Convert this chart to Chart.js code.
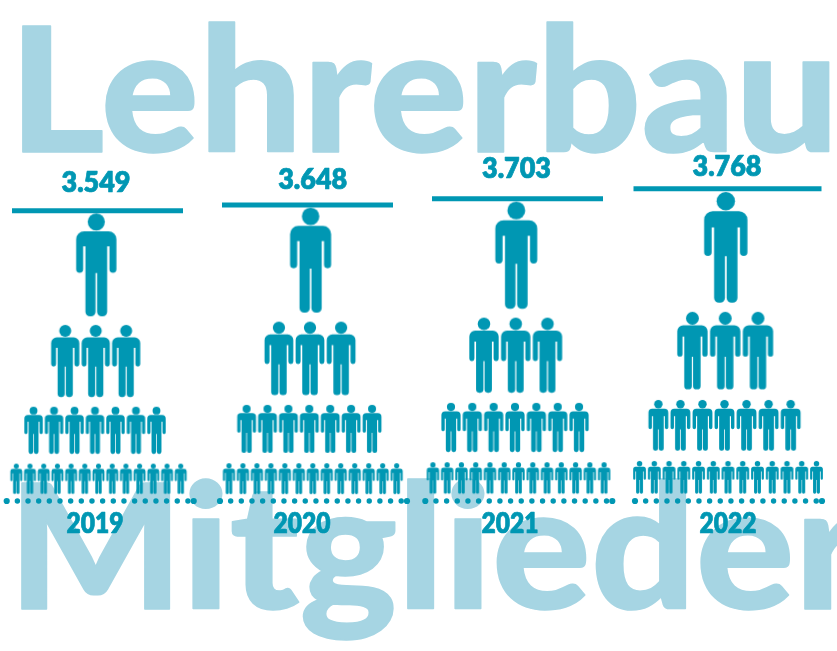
<!DOCTYPE html>
<html lang="de">
<head>
<meta charset="utf-8">
<title>Lehrerbau Mitglieder</title>
<script src="https://cdn.jsdelivr.net/npm/chart.js@4"></script>
<style>
    html, body { margin: 0; padding: 0; background: #fff; overflow: hidden; }
    #chart { display: block; }
</style>
</head>
<body>
<canvas id="chart" width="837" height="651"></canvas>
<script>
// Daten
const years = [2019, 2020, 2021, 2022];
const members = [3549, 3648, 3703, 3768];
// Hoehe der Linie, wie sie im Bild steht (nicht ganz proportional zu members)
const drawnLevels = [3549, 3619, 3696, 3818];
const figuresPerRow = [1, 3, 7, 13];
const titleTop = 'Lehrerbau';
const titleBottom = 'Mitglieder';

// Aussehen
const TEAL = '#0097b3';
const LIGHT = '#a6d5e3';
const PX_PER_YEAR = 210;
const PX_PER_MEMBER = 0.0818;
const BASE_Y = 501;
const FIRST_X = 97.5;

const rowCenter = [0.812, 0.481, 0.242, 0.0755];
const rowHeight = [0.355, 0.2485, 0.1625, 0.1045];
const rowSpacing = [0, 0.105, 0.0706, 0.0472];
const rowShift = [0.3, -0.3, -1, 2.5];
const yearShift = [-1.5, 2.8, -1.5, -2];
const lineWidths = [171, 171, 171, 188];
const dotStart = [6.7, 220, 425.3, 635];
const valueLabelX = [96, 312.7, 516.5, 727];
const valueLabelGap = [18.8, 16, 21, 12.7];
const yearLabelX = [95, 302, 510, 728];

function personIcon(h) {
    const u = h / 103.4;
    const c = document.createElement('canvas');
    c.width = Math.ceil(41 * u) + 2;
    c.height = Math.ceil(h) + 2;
    const g = c.getContext('2d');
    g.fillStyle = TEAL;
    g.translate(c.width / 2, 1);
    g.scale(u, u);
    g.beginPath();
    g.arc(0, 8.6, 8.6, 0, Math.PI * 2);
    g.fill();
    g.beginPath();
    g.roundRect(-20.2, 18, 40.4, 15, [8, 8, 0, 0]);
    g.roundRect(-20.2, 26, 7, 33.7, 3.5);
    g.roundRect(13.2, 26, 7, 33.7, 3.5);
    g.rect(-10.9, 30, 21.8, 30);
    g.roundRect(-10.9, 50, 10.1, 53.4, [0, 0, 4.5, 4.5]);
    g.roundRect(0.8, 50, 10.1, 53.4, [0, 0, 4.5, 4.5]);
    g.fill();
    return c;
}

const xFromPx = px => years[0] + (px - FIRST_X) / PX_PER_YEAR;

const figurePoints = [];
const figureStyles = [];
const linePoints = [];
const lineRadius = [];
const dotPoints = [];
const dotRadius = [];

years.forEach((year, i) => {
    const level = drawnLevels[i];
    const levelPx = level * PX_PER_MEMBER;
    const cx = FIRST_X + i * PX_PER_YEAR;

    figuresPerRow.forEach((count, r) => {
        const icon = personIcon(levelPx * rowHeight[r]);
        for (let n = 0; n < count; n++) {
            const px = cx + yearShift[i] + rowShift[r] + (n - (count - 1) / 2) * rowSpacing[r] * levelPx;
            figurePoints.push({ x: xFromPx(px), y: level * rowCenter[r] });
            figureStyles.push(icon);
        }
    });

    linePoints.push({ x: year, y: level });
    lineRadius.push(lineWidths[i] / 2);

    for (let d = 0; d < 18; d++) {
        dotPoints.push({ x: xFromPx(dotStart[i] + d * 10.66), y: 0 });
        dotRadius.push(d === 0 ? 3.1 : 2.7);
    }
    dotPoints.push({ x: xFromPx(dotStart[i] + 187), y: 0 });
    dotRadius.push(3.1);
});

// Text auf bestimmte Breite stauchen, stroke macht ihn etwas fetter
function fitText(ctx, text, x, y, width, font, color, align, stroke) {
    ctx.save();
    ctx.font = font;
    ctx.fillStyle = color;
    ctx.strokeStyle = color;
    ctx.textBaseline = 'alphabetic';
    ctx.textAlign = 'left';
    const w = ctx.measureText(text).width;
    const left = align === 'center' ? x - width / 2 : x;
    ctx.translate(left, y);
    ctx.scale(width / w, 1);
    ctx.fillText(text, 0, 0);
    if (stroke) {
        ctx.lineWidth = stroke;
        ctx.lineJoin = 'round';
        ctx.strokeText(text, 0, 0);
    }
    ctx.restore();
}

const titlesBehind = {
    id: 'titlesBehind',
    beforeDatasetsDraw(chart) {
        const ctx = chart.ctx;
        fitText(ctx, titleTop, 9, 152, 830, '900 173px Lato', LIGHT, 'left', 1.5);
        fitText(ctx, titleBottom, 8, 609, 856, '900 173px Lato', LIGHT, 'left', 1.5);
    }
};

const labels = {
    id: 'labels',
    afterDatasetsDraw(chart) {
        const ctx = chart.ctx;
        const y = chart.scales.y;
        members.forEach((m, i) => {
            const text = String(m).replace(/(\d)(\d{3})$/, '$1.$2');
            const top = y.getPixelForValue(drawnLevels[i]);
            fitText(ctx, text, valueLabelX[i], top - valueLabelGap[i], 69, '800 28px Lato', TEAL, 'center', 0.7);
        });
        years.forEach((year, i) => {
            fitText(ctx, String(year), yearLabelX[i], 533, 57, '800 28px Lato', TEAL, 'center', 0.7);
        });
    }
};

new Chart(document.getElementById('chart'), {
    type: 'scatter',
    data: {
        datasets: [
            {
                label: 'Figuren',
                data: figurePoints,
                pointStyle: figureStyles,
                pointRadius: 5
            },
            {
                label: 'Linie',
                data: linePoints,
                pointStyle: 'line',
                pointRadius: lineRadius,
                pointBorderWidth: 5,
                pointBorderColor: TEAL
            },
            {
                label: 'Punkte',
                data: dotPoints,
                pointStyle: 'circle',
                pointRadius: dotRadius,
                pointBorderWidth: 0,
                pointBackgroundColor: TEAL
            }
        ]
    },
    options: {
        responsive: false,
        animation: false,
        events: [],
        layout: { padding: 0, autoPadding: false },
        plugins: {
            legend: { display: false },
            tooltip: { enabled: false }
        },
        scales: {
            x: {
                display: false,
                min: xFromPx(0),
                max: xFromPx(837)
            },
            y: {
                display: false,
                min: (BASE_Y - 651) / PX_PER_MEMBER,
                max: BASE_Y / PX_PER_MEMBER
            }
        }
    },
    plugins: [titlesBehind, labels]
});
</script>
</body>
</html>
